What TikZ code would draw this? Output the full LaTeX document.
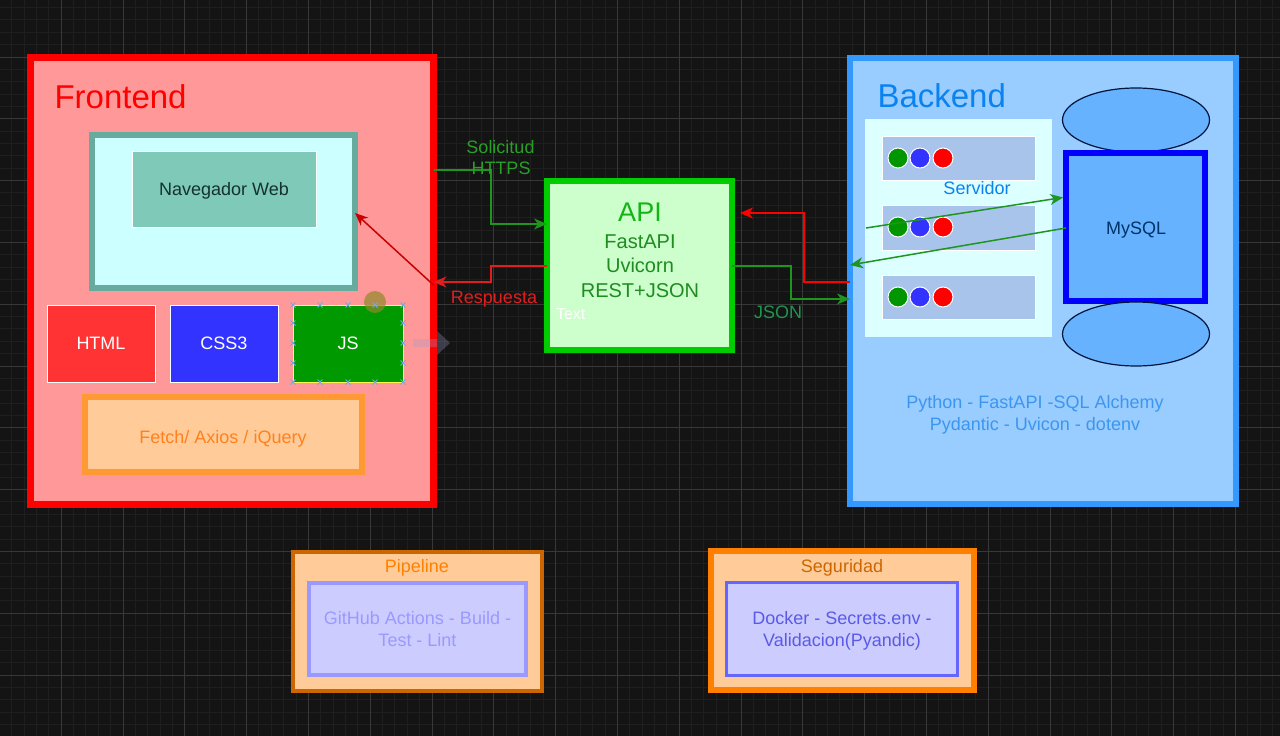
\documentclass[tikz,border=0pt]{standalone}
\usepackage{fontspec}
\setmainfont{Liberation Sans}
\usetikzlibrary{arrows.meta,shapes.geometric,calc}
\definecolor{bgcol}{RGB}{20,20,20}
\definecolor{gridminor}{RGB}{31,31,31}
\definecolor{gridmajor}{RGB}{56,56,56}
\definecolor{frred}{RGB}{255,0,0}
\definecolor{frfill}{RGB}{255,153,153}
\definecolor{navborder}{RGB}{103,171,159}
\definecolor{navfill}{RGB}{204,255,255}
\definecolor{navinner}{RGB}{126,201,184}
\definecolor{navtext}{RGB}{20,50,45}
\definecolor{htmlfill}{RGB}{255,51,51}
\definecolor{cssfill}{RGB}{51,51,255}
\definecolor{jsfill}{RGB}{0,153,0}
\definecolor{fetchfill}{RGB}{255,204,153}
\definecolor{fetchborder}{RGB}{255,153,51}
\definecolor{fetchtext}{RGB}{255,128,30}
\definecolor{apifill}{RGB}{204,255,204}
\definecolor{apiborder}{RGB}{0,204,0}
\definecolor{apititle}{RGB}{20,180,20}
\definecolor{apitext}{RGB}{30,140,30}
\definecolor{bkfill}{RGB}{153,204,255}
\definecolor{bkborder}{RGB}{51,153,255}
\definecolor{bktitle}{RGB}{10,130,240}
\definecolor{bktext}{RGB}{60,150,240}
\definecolor{srvfill}{RGB}{220,255,255}
\definecolor{rowfill}{RGB}{169,196,235}
\definecolor{dotgreen}{RGB}{0,150,0}
\definecolor{dotblue}{RGB}{51,51,255}
\definecolor{dotred}{RGB}{255,0,0}
\definecolor{dbfill}{RGB}{102,178,255}
\definecolor{dbedge}{RGB}{0,20,60}
\definecolor{dbborder}{RGB}{0,0,255}
\definecolor{dbtext}{RGB}{0,51,102}
\definecolor{lgreen}{RGB}{30,150,30}
\definecolor{lgreentext}{RGB}{40,160,40}
\definecolor{jsontext}{RGB}{30,150,80}
\definecolor{lred}{RGB}{225,30,30}
\definecolor{dred}{RGB}{200,0,0}
\definecolor{pipeborder}{RGB}{204,102,0}
\definecolor{pipetitle}{RGB}{255,128,0}
\definecolor{innerfill}{RGB}{204,204,255}
\definecolor{pipeinner}{RGB}{153,153,255}
\definecolor{secborder}{RGB}{255,128,0}
\definecolor{sectitle}{RGB}{204,102,0}
\definecolor{secinner}{RGB}{102,102,255}
\definecolor{sectext}{RGB}{90,90,230}
\definecolor{handlecol}{RGB}{110,170,230}
\begin{document}
\begin{tikzpicture}[x=1pt,y=-1pt,
  bx/.style={draw, rectangle, inner sep=0pt, outer sep=0pt},
  txt/.style={inner sep=0pt, outer sep=0pt, font=\fontsize{18}{22}\selectfont},
  lbl/.style={txt, anchor=base},
  arrowhd/.style={-{Stealth[length=13pt,width=11pt,inset=4pt]}},
  dot/.style={circle, draw=white, line width=1pt, minimum size=20pt, inner sep=0pt},
  handle/.style={draw=handlecol, line width=1pt}
]
\useasboundingbox (0,0) rectangle (1280,736);
% background grid
\fill[bgcol] (0,0) rectangle (1280,736);
\foreach \i in {0,...,104} \draw[gridminor, line width=1pt] ({\i*12.36-0.6},0) -- ({\i*12.36-0.6},736);
\foreach \j in {1,...,60} \draw[gridminor, line width=1pt] (0,{\j*12.36-4.8}) -- (1280,{\j*12.36-4.8});
\foreach \i in {1,...,21} \draw[gridmajor, line width=1pt] ({\i*61.8-0.6},0) -- ({\i*61.8-0.6},736);
\foreach \j in {1,...,12} \draw[gridmajor, line width=1pt] (0,{\j*61.8-4.8}) -- (1280,{\j*61.8-4.8});

% ---------------- Frontend ----------------
\node[bx, draw=frred, fill=frfill, line width=7pt, minimum width=403pt, minimum height=447pt] (front) at (232,281) {};
\node[txt, anchor=base west, font=\fontsize{33}{36}\selectfont, text=frred] (fronttitle) at (54.5,108) {Frontend};
\node[bx, draw=navborder, fill=navfill, line width=6pt, minimum width=263pt, minimum height=153pt] (nav) at (223.5,211.5) {};
\node[bx, draw=white, fill=navinner, line width=1pt, minimum width=184pt, minimum height=76pt] (navweb) at (224,189) {};
\node[lbl, text=navtext] (navwebtxt) at (224,195) {Navegador Web};
\node[bx, draw=white, fill=htmlfill, line width=1pt, minimum width=108pt, minimum height=77pt, txt, text=white] (html) at (101,343.5) {HTML};
\node[bx, draw=white, fill=cssfill, line width=1pt, minimum width=108pt, minimum height=77pt, txt, text=white] (css) at (224,343.5) {CSS3};
\node[bx, draw=yellow!70!white, fill=jsfill, line width=1pt, minimum width=110pt, minimum height=77pt, txt, text=white] (js) at (348,343.5) {JS};
% selection handles of JS
\fill[olive!70!gray, opacity=0.7] (375,302) circle (11pt);
\foreach \hx in {293,320,348,375,403} \foreach \hy in {305,382}
  {\draw[handle] ({\hx-2.5},{\hy-2.5}) -- ({\hx+2.5},{\hy+2.5}) ({\hx-2.5},{\hy+2.5}) -- ({\hx+2.5},{\hy-2.5});}
\foreach \hx in {293,403} \foreach \hy in {323,343,363}
  {\draw[handle] ({\hx-2.5},{\hy-2.5}) -- ({\hx+2.5},{\hy+2.5}) ({\hx-2.5},{\hy+2.5}) -- ({\hx+2.5},{\hy-2.5});}
% faint hover arrow
\fill[gray!70!blue!60, opacity=0.3] (413,339) -- (437,339) -- (437,331) -- (450,343) -- (437,355) -- (437,347) -- (413,347) -- cycle;
\node[bx, draw=fetchborder, fill=fetchfill, line width=5.5pt, minimum width=277pt, minimum height=75pt] (fetch) at (223.5,434.5) {};
\node[lbl, text=fetchtext] (fetchtxt) at (223,443) {Fetch/ Axios / iQuery};

% ---------------- API ----------------
\node[bx, draw=apiborder, fill=apifill, line width=6pt, minimum width=185pt, minimum height=169pt] (api) at (639.5,265.5) {};
\node[lbl, font=\fontsize{27}{30}\selectfont, text=apititle] (apititle) at (640,221) {API};
\node[lbl, font=\fontsize{20}{24}\selectfont, text=apitext] (api1) at (640,248) {FastAPI};
\node[lbl, font=\fontsize{20}{24}\selectfont, text=apitext] (api2) at (640,272) {Uvicorn};
\node[lbl, font=\fontsize{20}{24}\selectfont, text=apitext] (api3) at (640,297) {REST+JSON};
\node[txt, anchor=base west, font=\fontsize{16}{19}\selectfont, text=white] (apitext) at (556,319) {Text};

% ---------------- Backend ----------------
\node[bx, draw=bkborder, fill=bkfill, line width=5.5pt, minimum width=386pt, minimum height=446pt] (back) at (1043,281) {};
\node[txt, anchor=base west, font=\fontsize{33}{36}\selectfont, text=bktitle] (backtitle) at (877.5,107) {Backend};
\node[rectangle, fill=srvfill, inner sep=0pt, minimum width=187pt, minimum height=218pt] (srv) at (958.5,228) {};
\node[bx, draw=white, fill=rowfill, line width=1pt, minimum width=153pt, minimum height=44pt] (row1) at (958.5,158) {};
\node[bx, draw=white, fill=rowfill, line width=1pt, minimum width=153pt, minimum height=45pt] (row2) at (958.5,227.5) {};
\node[bx, draw=white, fill=rowfill, line width=1pt, minimum width=153pt, minimum height=44pt] (row3) at (958.5,297) {};
\foreach \ry in {158,227,297} {
  \node[dot, fill=dotgreen] at (898,\ry) {};
  \node[dot, fill=dotblue] at (920,\ry) {};
  \node[dot, fill=dotred] at (943,\ry) {};
}
\node[lbl, text=bktitle] (srvtxt) at (977,194) {Servidor};
\node[ellipse, draw=dbedge, fill=dbfill, line width=1.2pt, minimum width=147pt, minimum height=64pt, inner sep=0pt] (dbtop) at (1136,120) {};
\node[bx, draw=dbborder, fill=dbfill, line width=6.5pt, minimum width=139pt, minimum height=148pt] (mysql) at (1135.5,227) {};
\node[ellipse, draw=dbedge, fill=dbfill, line width=1.2pt, minimum width=147pt, minimum height=64pt, inner sep=0pt] (dbbot) at (1136,334) {};
\node[lbl, text=dbtext] (mysqltxt) at (1136,234) {MySQL};
\coordinate (q1) at (866,228);
\draw[lgreen, line width=1.5pt, arrowhd, shorten >=3pt] (q1) -- (mysql.west |- 0,197);
\draw[lgreen, line width=1.5pt, arrowhd] (mysql.west |- 0,228) -- (back.west |- 0,265);
\node[lbl, text=bktext] (bk1) at (1035,408) {Python - FastAPI -SQL Alchemy};
\node[lbl, text=bktext] (bk2) at (1035,430) {Pydantic - Uvicon - dotenv};

% ---------------- Connectors ----------------
\draw[lgreen, line width=1.5pt, arrowhd] (front.east |- 0,170) -- (491,170) -- (491,224) -- (api.west |- 0,224);
\node[lbl, text=lgreentext] (sol1) at (500.5,153) {Solicitud};
\node[lbl, text=lgreentext] (sol2) at (501,174) {HTTPS};
\draw[lred, line width=1.5pt, arrowhd] (api.west |- 0,266) -- (491,266) -- (491,282) -- (front.east |- 0,282);
\node[lbl, text=lred] (resp) at (494,303) {Respuesta};
\draw[dred, line width=1.5pt, arrowhd] (front.east |- 0,285) -- (nav.east |- 0,213);
\draw[lgreen, line width=1.5pt, arrowhd] (api.east |- 0,266) -- (791,266) -- (791,299) -- (back.west |- 0,299);
\node[lbl, text=jsontext] (json) at (778,318) {JSON};
\draw[frred, line width=2pt, arrowhd, shorten >=8pt] (back.west |- 0,282) -- (804,282) -- (804,213) -- (api.east |- 0,213);

% ---------------- Pipeline / Seguridad ----------------
\node[bx, draw=pipeborder, fill=fetchfill, line width=4pt, minimum width=249pt, minimum height=139pt] (pipe) at (417.5,621.5) {};
\node[lbl, text=pipetitle] (pipet) at (417,572) {Pipeline};
\node[bx, draw=pipeinner, fill=innerfill, line width=4pt, minimum width=217pt, minimum height=92pt] (pipein) at (417.5,629) {};
\node[lbl, text=pipeinner] (pipe1) at (417.5,624) {GitHub Actions - Build -};
\node[lbl, text=pipeinner] (pipe2) at (417.5,646) {Test - Lint};
\node[bx, draw=secborder, fill=fetchfill, line width=6pt, minimum width=263pt, minimum height=139pt] (sec) at (842.5,620.5) {};
\node[lbl, text=sectitle] (sect) at (842,572) {Seguridad};
\node[bx, draw=secinner, fill=innerfill, line width=3pt, minimum width=231pt, minimum height=93pt] (secin) at (842,629) {};
\node[lbl, text=sectext] (sec1) at (842,624) {Docker - Secrets.env -};
\node[lbl, text=sectext] (sec2) at (842,646) {Validacion(Pyandic)};
\end{tikzpicture}
\end{document}
